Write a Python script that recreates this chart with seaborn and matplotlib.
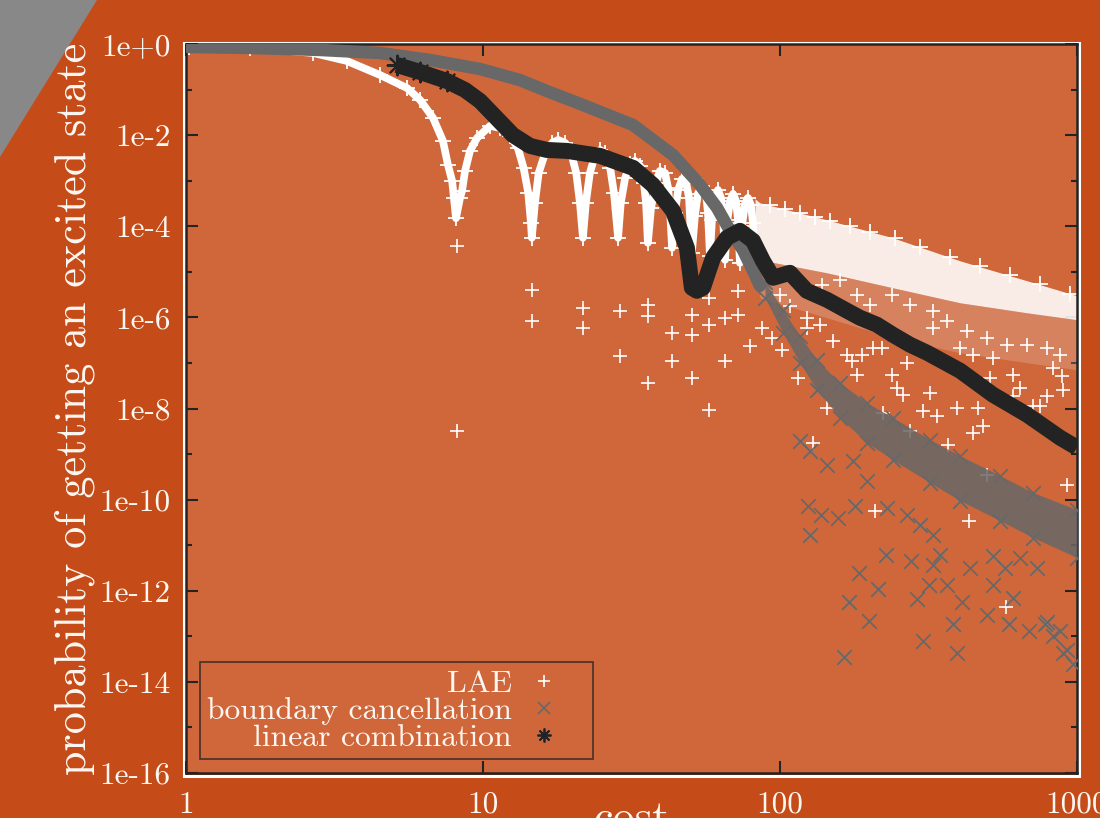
import matplotlib
matplotlib.use("Agg")
import matplotlib.pyplot as plt
from matplotlib.lines import Line2D
from matplotlib.patches import Polygon, Rectangle
from matplotlib.ticker import NullLocator
import seaborn as sns

# ---- data ----
# LAE: smooth start, then the arches between the zeros
lae_x = [1.02, 1.64, 2.68, 3.48, 4.50, 5.55, 6.14, 6.79, 7.33, 7.62, 7.87, 7.98, 8.11,
         8.37, 8.50, 8.70, 9.04, 9.55, 10.56, 11.4, 12.3, 13.1, 13.7, 14.2, 14.5,
         14.6, 14.96, 15.4, 16.2, 17.1, 17.9, 18.9, 19.8, 20.6, 21.2, 21.7,
         22.2, 22.9, 23.8, 24.8, 25.7, 26.8, 27.6, 28.5,
         29.1, 30.1, 31.3, 32.5, 33.8, 34.8, 35.4, 35.9,
         36.8, 38.2, 39.4, 41.0, 42.0, 42.6, 43.3,
         44.3, 45.4, 46.8, 48.3, 49.4, 50.5,
         51.7, 52.9, 54.6, 56.3, 57.2, 58.1,
         59.0, 60.4, 61.8, 63.3, 64.3, 65.3,
         66.3, 67.9, 69.5, 71.1, 72.2, 73.3,
         74.5, 76.2, 78.0, 79.8, 81.1, 82.4]
lae_y = [0.86, 0.82, 0.635, 0.424, 0.209, 0.108, 0.0592, 0.0238, 7.46e-3, 2.22e-3, 9.9e-4, 4.2e-4, 1.5e-4,
         4.2e-4, 5.97e-4, 1.64e-3, 4.5e-3, 8.68e-3, 0.0159, 0.0144, 9.6e-3, 5.24e-3, 1.91e-3, 5.4e-4, 1.19e-4,
         5.57e-5, 3.26e-4, 1.48e-3, 4.07e-3, 6.75e-3, 7.85e-3, 6.75e-3, 4.07e-3, 1.48e-3, 3.26e-4, 5.57e-5,
         3.26e-4, 1.48e-3, 3.5e-3, 4.73e-3, 4.07e-3, 1.91e-3, 5.4e-4, 5.57e-5,
         3.26e-4, 1.15e-3, 2.34e-3, 2.72e-3, 2.11e-3, 8.95e-4, 3.26e-4, 4.33e-5,
         2.53e-4, 8.95e-4, 1.64e-3, 1.48e-3, 6.95e-4, 2.53e-4, 3.36e-5,
         1.97e-4, 6.28e-4, 1.1e-3, 8.95e-4, 4.2e-4, 2.61e-5,
         1.69e-4, 5.14e-4, 7.69e-4, 5.4e-4, 1.97e-4, 2.24e-5,
         1.38e-4, 4.2e-4, 6.28e-4, 4.2e-4, 1.69e-4, 1.83e-5,
         1.19e-4, 3.6e-4, 5.14e-4, 3.6e-4, 1.38e-4, 1.57e-5,
         1.02e-4, 3.1e-4, 4.2e-4, 2.94e-4, 1.19e-4, 1.35e-5]

# LAE beyond ~80: the arches merge into a band
wedge_x = [82.4, 85.6, 144, 240, 404, 679, 1000]
wedge_top = [4.0e-4, 3.26e-4, 1.38e-4, 5.57e-5, 1.74e-5, 6.35e-6, 2.98e-6]
wedge_mid = [1.35e-5, 1.83e-5, 9.5e-6, 4.46e-6, 2.09e-6, 1.26e-6, 8.9e-7]
wedge_low = [1.35e-5, 2.69e-6, 9.8e-7, 3.57e-7, 1.67e-7, 1.01e-7, 7.1e-8]
# arch tops along the upper edge of that band
peak_x = [92.5, 104, 116.7, 131, 147, 172, 201, 244, 296, 373, 471, 595, 750, 947]
peak_y = [2.87e-4, 2.41e-4, 1.97e-4, 1.61e-4, 1.31e-4, 1.02e-4, 7.5e-5, 5.43e-5, 3.53e-5,
          2.13e-5, 1.35e-5, 8.6e-6, 5.46e-6, 3.3e-6]

# LAE isolated points below the arches
lae_pts_x = [8.17, 8.17, 14.6, 14.6, 21.7, 21.7, 28.9, 28.9, 35.9, 35.9, 35.9, 43.3, 43.3,
             50.5, 50.5, 50.5, 57.7, 57.7, 57.7, 65.3, 65.3, 72.2, 72.2, 79.2, 86.9, 94.0,
             101.6, 100, 108, 115, 123, 123, 129, 136, 144, 151, 168, 175, 182, 189, 206,
             209, 221, 222, 238, 248, 259, 268, 274, 303, 320, 338, 368, 394, 433, 447,
             464, 483, 498, 509, 577, 609, 643, 711, 750, 793, 890, 897, 925,
             138, 159, 182, 201, 238, 274, 327, 365, 426, 498, 581, 679, 793, 877, 404,
             521, 327, 447, 609, 830]
lae_pts_y = [3.72e-5, 3.26e-9, 4.03e-6, 8.4e-7, 1.62e-6, 5.9e-7, 1.40e-6, 1.44e-7, 1.89e-6, 1.08e-6, 3.68e-8,
             4.6e-7, 1.12e-7, 1.14e-6, 4.15e-7, 4.7e-8, 2.69e-6, 6.9e-7, 9.4e-9, 9.8e-7, 1.12e-7,
             3.83e-6, 1.14e-6, 2.38e-7, 5.9e-7, 3.57e-7, 1.95e-7, 3.13e-6, 1.80e-6, 4.7e-8, 9.8e-7,
             5.9e-7, 1.78e-9, 6.9e-7, 1.04e-8, 3.07e-7, 1.51e-7, 1.12e-7, 5.5e-8, 1.51e-7, 2.15e-7,
             5.7e-11, 2.15e-7, 8.1e-9, 5.5e-8, 2.86e-8, 2.01e-8, 1.01e-7, 3.26e-9, 8.9e-9, 2.22e-8,
             6.95e-9, 1.61e-9, 1.04e-8, 3.46e-11, 2.94e-9, 1.04e-8, 4.2e-9, 3.5e-10, 4.7e-8,
             4.5e-13, 1.91e-8, 2.86e-8, 1.15e-8, 1.15e-8, 1.91e-8, 5.2e-8, 2.58e-8, 2.13e-10,
             5.19e-6, 6.68e-6, 3.13e-6, 1.89e-6, 3.13e-6, 1.89e-6, 1.40e-6, 8.4e-7, 5.08e-7,
             3.57e-7, 2.5e-7, 2.5e-7, 2.15e-7, 1.51e-7, 2.15e-7, 1.30e-7, 5.9e-7, 1.51e-7,
             5.5e-8, 7.85e-8]

# boundary cancellation: smooth part up to ~90
bc_x = [1.02, 1.64, 2.83, 4.50, 6.63, 9.77, 13.3, 16.4, 21.7, 32.0, 43.6, 53.8, 61.4,
        67.9, 75.0, 81.1, 85.6]
bc_y = [0.86, 0.82, 0.74, 0.635, 0.446, 0.283, 0.162, 0.093, 0.0459, 0.0167, 3.68e-3,
        8.09e-4, 2.53e-4, 7.93e-5, 3.03e-5, 1.05e-5, 4.93e-6]
# boundary cancellation: scattered band after ~90
band_x = [89.0, 102.3, 116.7, 133, 159, 196, 240, 320, 404, 551, 711, 1000]
band_top = [6.04e-6, 1.47e-6, 3.95e-7, 1.18e-7, 3.68e-8, 1.34e-8, 6.3e-9, 2.07e-9,
            9.2e-10, 3.36e-10, 1.43e-10, 6.0e-11]
band_bot = [2.69e-6, 4.6e-7, 1.01e-7, 2.58e-8, 6.3e-9, 1.78e-9, 7.5e-10, 2.36e-10,
            9.5e-11, 3.46e-11, 1.47e-11, 5.35e-12]
bc_pts_x = [124, 137, 157, 179, 126, 164, 199, 171, 185, 214, 228, 276, 289, 303, 382, 394,
            318, 365, 410, 521, 498, 590, 609, 689, 793, 897, 970, 327, 346, 436, 521, 572,
            643, 733, 830, 877, 925, 780, 116.7, 126, 144, 176, 196, 229, 268, 296, 327]
bc_pts_y = [7.4e-11, 4.7e-11, 4.0e-11, 7.4e-11, 1.71e-11, 3.43e-14, 2.22e-13, 5.8e-13,
            2.51e-12, 1.12e-12, 6.2e-12, 4.6e-12, 6.7e-13, 7.7e-14, 1.91e-13, 4.2e-14,
            1.37e-12, 1.37e-12, 5.8e-13, 1.37e-12, 3.0e-13, 1.91e-13, 7.1e-13, 1.34e-13,
            2.01e-13, 4.4e-14, 2.41e-14, 3.76e-12, 6.2e-12, 3.23e-12, 5.9e-12, 3.23e-12,
            5.35e-12, 3.23e-12, 1.04e-13, 1.34e-13, 4.9e-14, 1.82e-13, 1.97e-9, 1.19e-9,
            5.86e-10, 7.2e-10, 2.61e-10, 6.7e-11, 4.7e-11, 2.83e-11, 1.71e-11]

# linear combination
lc_x = [5.13, 6.14, 7.56, 8.70, 9.77, 11.1, 12.6, 14.4, 16.4, 19.2, 24.8, 32.0, 37.3, 43.6,
        48.6, 50.5, 52.5, 55.0, 59.5, 66.3, 73.3, 81.1, 87.6, 94.7, 108, 123, 144, 168,
        186, 212, 240, 274, 313, 404, 521, 679, 877, 1000]
lc_y = [0.346, 0.243, 0.154, 0.098, 0.0562, 0.0238, 0.0101, 5.8e-3, 4.73e-3, 4.5e-3,
        3.5e-3, 1.91e-3, 8.09e-4, 2.18e-4, 3.36e-5, 4.46e-6, 3.83e-6, 4.46e-6, 2.03e-5,
        5.57e-5, 7.93e-5, 4.79e-5, 1.74e-5, 7.4e-6, 9.5e-6, 3.83e-6, 2.43e-6, 1.40e-6,
        9.8e-7, 6.9e-7, 4.15e-7, 2.51e-7, 1.67e-7, 6.75e-8, 2.01e-8, 7.3e-9, 2.29e-9, 1.38e-9]

labels = ["LAE", "boundary cancellation", "linear combination"]
x_ticks = [1, 10, 100, 1000]
x_labels = ["1", "10", "100", "1000"]
y_ticks = [1e0, 1e-2, 1e-4, 1e-6, 1e-8, 1e-10, 1e-12, 1e-14, 1e-16]
y_labels = ["1e+0", "1e-2", "1e-4", "1e-6", "1e-8", "1e-10", "1e-12", "1e-14", "1e-16"]
y_minor = [1e-1, 1e-3, 1e-5, 1e-7, 1e-9, 1e-11, 1e-13, 1e-15]

# ---- style ----
BG = "#c54c18"
AX_BG = "#cf673b"
TXT = "#fdf7f2"
WHITE = "#ffffff"
GRAY = "#686868"
DARK = "#232323"

sns.set_style("ticks")
plt.rcParams["font.family"] = ["cmr10", "DejaVu Serif"]
plt.rcParams["axes.unicode_minus"] = False

fig = plt.figure(figsize=(11, 8.18), dpi=100)
fig.patch.set_facecolor(BG)
fig.patches.append(Polygon([(0, 1), (0.0882, 1), (0, 0.808)], closed=True,
                           transform=fig.transFigure, facecolor="#888888",
                           edgecolor="none", zorder=-1))
fig.patches.append(Rectangle((183.5 / 1100, 1 - 775.5 / 818), 895.5 / 1100, 733 / 818,
                             transform=fig.transFigure, fill=False, edgecolor="white",
                             linewidth=2.2, zorder=-1))

ax = fig.add_axes([186 / 1100, 1 - 773 / 818, 891 / 1100, 729 / 818])
ax.set_facecolor(AX_BG)
ax.set_xscale("log")
ax.set_yscale("log")

# LAE
ax.fill_between(wedge_x, wedge_mid, wedge_top, color=WHITE, alpha=0.88, lw=0, zorder=2)
ax.fill_between(wedge_x, wedge_low, wedge_mid, color=WHITE, alpha=0.18, lw=0, zorder=2)
sns.lineplot(x=lae_x, y=lae_y, ax=ax, color=WHITE, lw=5.5, sort=False, estimator=None,
             zorder=2)
sns.scatterplot(x=lae_x, y=lae_y, ax=ax, color=WHITE, marker="+", s=120, linewidth=1.3,
                zorder=2)
sns.scatterplot(x=peak_x, y=peak_y, ax=ax, color=WHITE, marker="+", s=120,
                linewidth=1.3, zorder=2)
sns.scatterplot(x=lae_pts_x, y=lae_pts_y, ax=ax, color=WHITE, marker="+", s=110,
                linewidth=1.2, zorder=2)

# boundary cancellation
sns.lineplot(x=bc_x, y=bc_y, ax=ax, color=GRAY, lw=9, sort=False, estimator=None,
             zorder=3, solid_joinstyle="round")
ax.fill_between(band_x, band_bot, band_top, color=GRAY, alpha=0.85, lw=0, zorder=3)
sns.scatterplot(x=band_x, y=band_top, ax=ax, color=GRAY, marker="x", s=110, linewidth=1.3,
                zorder=3)
sns.scatterplot(x=band_x, y=band_bot, ax=ax, color=GRAY, marker="x", s=110, linewidth=1.3,
                zorder=3)
sns.scatterplot(x=bc_pts_x, y=bc_pts_y, ax=ax, color=GRAY, marker="x", s=110,
                linewidth=1.3, zorder=3)

# linear combination
sns.lineplot(x=lc_x, y=lc_y, ax=ax, color=DARK, lw=11.5, sort=False, estimator=None,
             zorder=4, solid_joinstyle="round", solid_capstyle="butt")
sns.scatterplot(x=lc_x[:3], y=lc_y[:3], ax=ax, color=DARK, marker=(8, 2, 0), s=200,
                linewidth=1.5, zorder=4)

ax.set_xlim(1, 1000)
ax.set_ylim(1e-16, 1)
ax.set_xticks(x_ticks, labels=x_labels)
ax.xaxis.set_minor_locator(NullLocator())
ax.set_yticks(y_ticks, labels=y_labels)
ax.set_yticks(y_minor, minor=True)
ax.yaxis.set_minor_formatter(plt.NullFormatter())
ax.tick_params(which="both", direction="in", top=True, right=True, color=DARK,
               width=1.5, labelsize=22.5, labelcolor=TXT)
ax.tick_params(which="major", length=8.5)
ax.tick_params(which="minor", length=4)
ax.tick_params(axis="y", pad=11)
ax.tick_params(axis="x", pad=13)
for sp in ax.spines.values():
    sp.set_color(DARK)
    sp.set_linewidth(1.8)

ax.set_xlabel("cost", fontsize=31.8, color=TXT)
ax.xaxis.set_label_coords(0.5, -0.037)
ax.set_ylabel("probability of getting an excited state", fontsize=31.8, color=TXT)
ax.yaxis.set_label_coords(-0.102, 0.5)

handles = [
    Line2D([], [], ls="none", marker="+", color=WHITE, ms=9, mew=1.2),
    Line2D([], [], ls="none", marker="x", color=GRAY, ms=8, mew=1.2),
    Line2D([], [], ls="none", marker=(8, 2, 0), color=DARK, ms=10, mew=1.3),
]
leg = ax.legend(handles, labels, loc="lower left", bbox_to_anchor=(0.0157, 0.0192),
                borderaxespad=0, fontsize=22.8, labelcolor=TXT, markerfirst=False,
                frameon=True, fancybox=False, facecolor="none", edgecolor=DARK,
                borderpad=0.22, handlelength=2.65, handletextpad=-0.3,
                labelspacing=-0.03)
leg.get_frame().set_linewidth(1.2)
leg.set_zorder(6)

fig.savefig("out.png", dpi=100, facecolor=BG)
